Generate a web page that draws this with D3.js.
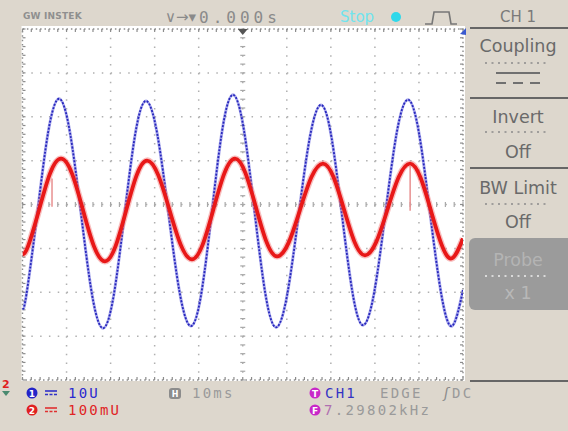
<!DOCTYPE html>
<html><head><meta charset="utf-8">
<script src="https://cdn.jsdelivr.net/npm/d3@7"></script>
<style>html,body{margin:0;padding:0;background:#ddd7cd;}svg{display:block;}</style>
</head><body>
<svg id="c" width="568" height="431"></svg>
<script>
// ---- data ----
// CH1 (blue) : time in ms (10 ms/div), value in V (10 V/div)
const blueT = [0,0.89,3.36,5.81,8.29,10.78,13.28,15.78,18.27,20.71,23.16,25.6,28.04,30.59,33.14,35.7,38.25,40.64,43.02,45.4,47.79,50.23,52.67,55.11,57.55,60.1,62.66,65.21,67.76,70.15,72.53,74.92,77.3,79.85,82.41,84.96,87.51,90.01,92.51,95.01,97.5,100];
const blueV = [-23.6,-20.5,-2.0,16.4,24.1,16.4,-2.0,-20.5,-28.2,-20.7,-2.3,16.1,23.6,16.1,-2.0,-20.2,-27.7,-20.0,-1.4,17.3,25.0,17.2,-1.5,-20.2,-28.0,-20.5,-2.6,15.2,22.7,15.3,-2.4,-20.1,-27.5,-20.0,-1.8,16.4,23.9,16.3,-1.9,-20.1,-27.7,-19.5];
// CH2 (red) : time in ms, value in mV (100 mV/div)
const redT = [0,1.25,3.75,6.24,8.74,11.24,13.73,16.23,18.73,21.11,23.5,25.88,28.26,30.82,33.37,35.93,38.48,40.92,43.36,45.8,48.24,50.62,53.01,55.39,57.78,60.39,62.99,65.6,68.22,70.6,72.99,75.37,77.75,80.31,82.86,85.41,87.97,90.35,92.74,95.12,97.5,100];
const redMV = [-113.6,-95.5,-12.5,70.5,104.5,70.5,-12.5,-95.5,-129.5,-95.5,-14.8,65.9,100,67,-12.5,-92,-125,-90.9,-10.2,70.5,104.5,71.6,-6.8,-85.2,-118.2,-87.5,-12.5,62.5,93.2,62.5,-11.4,-85.2,-115.9,-85.2,-11.4,62.5,93.2,61.4,-14.8,-90.9,-122.7,-77.3];
// glitch spikes on CH2 (time ms, from mV, to mV)
const redSpikeT = [6.7, 88.0];
const redSpikeFrom = [59, 89];
const redSpikeTo = [-5, -14];
// settings / labels
const ch1Scale = "10U", ch2Scale = "100mU", timeBase = "10ms";
const trigSource = "CH1", trigType = "EDGE", trigCoupling = "DC", trigFreq = "7.29802kHz";
const hPos = "0.000s", runState = "Stop";
const menuTitle = "CH 1";
const menuItems = ["Coupling", "Invert", "BW Limit", "Probe"];
const menuValues = ["", "Off", "Off", "x 1"];

// ---- layout ----
const svg = d3.select("#c");
const L = 22.5, R = 463, T = 29, B = 380;
const x = d3.scaleLinear().domain([0, 100]).range([L, R]);
const yB = d3.scaleLinear().domain([-40, 40]).range([B, T]);
const yR = d3.scaleLinear().domain([-400, 400]).range([B, T]);

svg.append("rect").attr("width",568).attr("height",431).attr("fill","#ddd7cd");
svg.append("rect").attr("x",L-1).attr("y",T-3).attr("width",R-L+3).attr("height",B-T+4).attr("fill","#ffffff");

const grid = svg.append("g");
const xt = d3.range(0, 101, 10), yt = d3.range(-40, 41, 10);
const dx = (R-L)/50, dy = (B-T)/40;
xt.forEach(t => {
  if (t === 0 || t === 100) return;
  grid.append("line").attr("x1",x(t)).attr("x2",x(t)).attr("y1",T).attr("y2",B)
    .attr("stroke","#b0b0b0").attr("stroke-width",1.5).attr("stroke-dasharray",`1.5,${dy-1.5}`);
});
yt.forEach(v => {
  if (v === -40 || v === 40) return;
  grid.append("line").attr("x1",L).attr("x2",R).attr("y1",yB(v)).attr("y2",yB(v))
    .attr("stroke","#b0b0b0").attr("stroke-width",1.5).attr("stroke-dasharray",`1.5,${dx-1.5}`);
});
d3.range(0, 41).forEach(i => {
  const yy = T + i*dy;
  grid.append("line").attr("x1",x(50)-2.5).attr("x2",x(50)+2.5).attr("y1",yy).attr("y2",yy).attr("stroke","#a8a8a8").attr("stroke-width",1.2);
});
d3.range(0, 51).forEach(i => {
  const xx = L + i*dx;
  grid.append("line").attr("x1",xx).attr("x2",xx).attr("y1",yB(0)-2.5).attr("y2",yB(0)+2.5).attr("stroke","#a8a8a8").attr("stroke-width",1.2);
});
grid.append("rect").attr("x",L).attr("y",T).attr("width",R-L).attr("height",B-T)
  .attr("fill","none").attr("stroke","#8c8c8c").attr("stroke-width",1.4).attr("stroke-dasharray","1.5,2.9");
d3.range(0, 51).forEach(i => {
  const xx = L + i*dx;
  grid.append("line").attr("x1",xx).attr("x2",xx).attr("y1",T).attr("y2",T+3).attr("stroke","#8c8c8c").attr("stroke-width",1.2);
  grid.append("line").attr("x1",xx).attr("x2",xx).attr("y1",B-3).attr("y2",B).attr("stroke","#8c8c8c").attr("stroke-width",1.2);
});
d3.range(0, 41).forEach(i => {
  const yy = T + i*dy;
  grid.append("line").attr("x1",L).attr("x2",L+3).attr("y1",yy).attr("y2",yy).attr("stroke","#8c8c8c").attr("stroke-width",1.2);
  grid.append("line").attr("x1",R-3).attr("x2",R).attr("y1",yy).attr("y2",yy).attr("stroke","#8c8c8c").attr("stroke-width",1.2);
});

// ---- traces ----
const blueData = blueT.map((t,i)=>[t, blueV[i]]);
const redData = redT.map((t,i)=>[t, redMV[i]]);
const lineB = d3.line().x(d=>x(d[0])).y(d=>yB(d[1])).curve(d3.curveNatural);
const lineR = d3.line().x(d=>x(d[0])).y(d=>yR(d[1])).curve(d3.curveNatural);
svg.append("clipPath").attr("id","scr").append("rect").attr("x",L).attr("y",T).attr("width",R-L).attr("height",B-T);
const tr = svg.append("g").attr("clip-path","url(#scr)");
tr.append("path").datum(blueData).attr("d",lineB).attr("fill","none").attr("stroke","#7070e0").attr("stroke-width",3).attr("opacity",0.6);
tr.append("path").datum(blueData).attr("d",lineB).attr("fill","none").attr("stroke","#2626bc").attr("stroke-width",1.8).attr("stroke-dasharray","2,1.5");
tr.append("path").datum(redData).attr("d",lineR).attr("fill","none").attr("stroke","#f07070").attr("stroke-width",6.5).attr("opacity",0.45);
tr.append("path").datum(redData).attr("d",lineR).attr("fill","none").attr("stroke","#e81818").attr("stroke-width",3.8);
redSpikeT.forEach((t,i)=>{
  tr.append("line").attr("x1",x(t)).attr("x2",x(t)).attr("y1",yR(redSpikeFrom[i])).attr("y2",yR(redSpikeTo[i]))
    .attr("stroke","#e89090").attr("stroke-width",1.5);
});

// markers
svg.append("path").attr("d",`M${x(50)-5},${T} L${x(50)+5},${T} L${x(50)},${T+6} Z`).attr("fill","#555");
svg.append("path").attr("d",`M${R+3},${T-1} L${R-3},${T+5} L${R+3},${T+6} Z`).attr("fill","#3a5ad0");
svg.append("text").attr("x",2).attr("y",388).attr("font-family","DejaVu Sans").attr("font-weight","bold").attr("font-size",11).attr("fill","#e02020").text("2");
svg.append("path").attr("d","M2,391 L10,391 L6,396 Z").attr("fill","#4a8a70");

// ---- top bar ----
const mono = "DejaVu Sans Mono";
svg.append("text").attr("x",23).attr("y",19).attr("font-family","DejaVu Sans").attr("font-weight","bold").attr("font-size",9).attr("fill","#8f8f8f").attr("letter-spacing",0.2).text("GW INSTEK");
svg.append("text").attr("x",165).attr("y",22).attr("font-family","DejaVu Sans").attr("font-size",15).attr("fill","#8a8a8a").text("\u2228\u2192\u25BE");
svg.append("text").attr("x",199).attr("y",23).attr("font-family",mono).attr("font-size",16).attr("fill","#8a8a8a").attr("letter-spacing",4).text(hPos);
svg.append("text").attr("x",340).attr("y",22).attr("font-family","DejaVu Sans").attr("font-size",15).attr("fill","#70e4ee").text(runState);
svg.append("circle").attr("cx",396).attr("cy",17).attr("r",5).attr("fill","#2fd8ea");
svg.append("path").attr("d","M425,24 L432,24 L434,12 L449,12 L451,24 L457,24").attr("fill","none").attr("stroke","#777").attr("stroke-width",1.6);

// ---- right menu ----
const mx = 518;
const mt = (y, s, fill, size) => svg.append("text").attr("x",mx).attr("y",y).attr("text-anchor","middle").attr("font-family","DejaVu Sans").attr("font-size",size||17.5).attr("fill",fill||"#6a6a6a").text(s);
mt(22, menuTitle, "#7a7a7a", 15);
const sep = y => svg.append("line").attr("x1",470).attr("x2",568).attr("y1",y).attr("y2",y).attr("stroke","#666").attr("stroke-width",2);
sep(28); sep(98); sep(168); sep(381);
const dots = (y, c) => svg.append("line").attr("x1",485).attr("x2",550).attr("y1",y).attr("y2",y).attr("stroke",c||"#8a8a8a").attr("stroke-width",1.6).attr("stroke-dasharray","2,4.5");
mt(52, menuItems[0]);
dots(63);
svg.append("line").attr("x1",496).attr("x2",540).attr("y1",73).attr("y2",73).attr("stroke","#707070").attr("stroke-width",2);
svg.append("line").attr("x1",496).attr("x2",540).attr("y1",83).attr("y2",83).attr("stroke","#707070").attr("stroke-width",2).attr("stroke-dasharray","10,7");
mt(123, menuItems[1]);
dots(132);
mt(158, menuValues[1]);
mt(194, menuItems[2]);
dots(204);
mt(228, menuValues[2]);
svg.append("rect").attr("x",469).attr("y",238).attr("width",110).attr("height",72).attr("rx",6).attr("fill","#9b9b9b");
mt(266, menuItems[3], "#b4b4b4");
dots(276, "#f0f0f0");
mt(299, menuValues[3], "#b8b8b8");

// ---- bottom info ----
const badge = (cx, cy, fill, t) => {
  svg.append("circle").attr("cx",cx).attr("cy",cy).attr("r",5.5).attr("fill",fill);
  svg.append("text").attr("x",cx).attr("y",cy+3.5).attr("text-anchor","middle").attr("font-family","DejaVu Sans").attr("font-weight","bold").attr("font-size",9).attr("fill","#fff").text(t);
};
const dcIcon = (x0, y0, c) => {
  svg.append("line").attr("x1",x0).attr("x2",x0+12).attr("y1",y0-2).attr("y2",y0-2).attr("stroke",c).attr("stroke-width",1.6);
  svg.append("line").attr("x1",x0).attr("x2",x0+12).attr("y1",y0+1.5).attr("y2",y0+1.5).attr("stroke",c).attr("stroke-width",1.6).attr("stroke-dasharray","3,1.5");
};
const bt = (x0, y0, s, fill) => svg.append("text").attr("x",x0).attr("y",y0).attr("font-family",mono).attr("font-size",14).attr("letter-spacing",2.2).attr("fill",fill).text(s);
badge(32, 393, "#2424c8", "1"); dcIcon(45, 393, "#3030c8"); bt(68, 398, ch1Scale, "#2a2ad0");
badge(32, 410, "#e02020", "2"); dcIcon(45, 410, "#e03030"); bt(68, 415, ch2Scale, "#e02424");
svg.append("rect").attr("x",169).attr("y",388).attr("width",12).attr("height",11).attr("rx",3).attr("fill","#8c8c8c");
svg.append("text").attr("x",175).attr("y",397).attr("text-anchor","middle").attr("font-family","DejaVu Sans").attr("font-weight","bold").attr("font-size",8).attr("fill","#fff").text("H");
bt(192, 398, timeBase, "#9a9a9a");
badge(315, 393, "#c828c8", "T"); bt(325, 398, trigSource, "#3434c4");
bt(380, 398, trigType, "#9a9a9a");
svg.append("text").attr("x",444).attr("y",398).attr("font-family","DejaVu Sans").attr("font-style","italic").attr("font-size",14).attr("fill","#8a8a8a").text("\u0283");
bt(452, 398, trigCoupling, "#9a9a9a");
badge(315, 410, "#c828c8", "F");
svg.append("text").attr("x",324).attr("y",415).attr("font-family",mono).attr("font-size",14).attr("letter-spacing",2.3).attr("fill","#9a9a9a")
  .call(t => { t.append("tspan").attr("fill","#b070b0").text(trigFreq[0]); t.append("tspan").text(trigFreq.slice(1)); });
</script>
</body></html>
